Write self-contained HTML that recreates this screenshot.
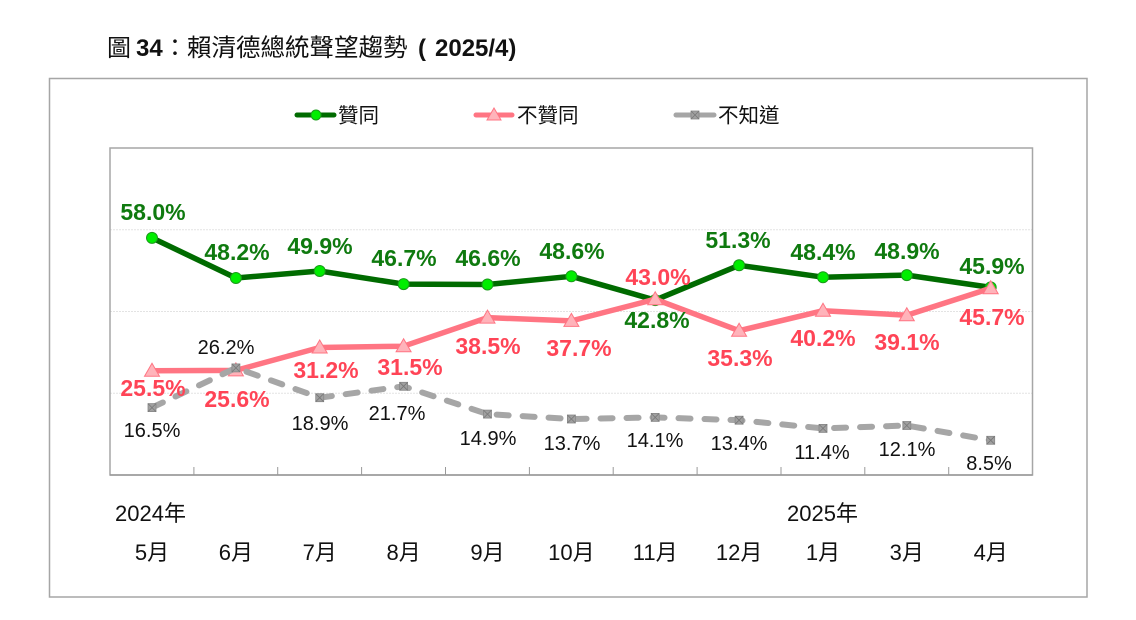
<!DOCTYPE html>
<html>
<head>
<meta charset="utf-8">
<style>
html,body{margin:0;padding:0;background:#fff;}
svg{display:block;}
text{font-family:"Liberation Sans","Noto Sans CJK TC",sans-serif;}
</style>
</head>
<body>
<svg width="1136" height="620" viewBox="0 0 1136 620" xmlns="http://www.w3.org/2000/svg">
  <rect x="0" y="0" width="1136" height="620" fill="#fff"/>
  <!-- Title -->
  <text x="107" y="56" font-size="24" fill="#111">圖</text>
  <text x="136" y="56" font-size="24" font-weight="bold" fill="#111">34</text>
  <text x="163" y="56" font-size="24" fill="#111">：</text>
  <text x="187" y="56" font-size="24.5" fill="#111">賴清德總統聲望趨勢</text>
  <text x="418" y="56" font-size="24" font-weight="bold" fill="#111">(</text>
  <text x="435" y="56" font-size="24" font-weight="bold" fill="#111">2025/4)</text>

  <!-- Outer box -->
  <rect x="49.5" y="78.5" width="1037.5" height="518.5" fill="none" stroke="#a6a6a6" stroke-width="1.5"/>

  <!-- Legend -->
  <line x1="297" y1="115" x2="334" y2="115" stroke="#006b00" stroke-width="5" stroke-linecap="round"/>
  <circle cx="316" cy="115" r="5" fill="#00ee00" stroke="#1a9a1a" stroke-width="1"/>
  <text x="338" y="122.5" font-size="20.5" fill="#111">贊同</text>

  <line x1="476" y1="115" x2="512" y2="115" stroke="#ff7583" stroke-width="5" stroke-linecap="round"/>
  <polygon points="494,108 501,120 487,120" fill="#ffb3ba" stroke="#ff7583" stroke-width="1"/>
  <text x="517" y="122.5" font-size="20.5" fill="#111">不贊同</text>

  <line x1="676" y1="115" x2="714" y2="115" stroke="#a6a6a6" stroke-width="5" stroke-linecap="round"/>
  <rect x="691" y="111" width="8" height="8" fill="#a0a0a0" stroke="#888" stroke-width="0.8"/>
  <path d="M691,111 L699,119 M699,111 L691,119" stroke="#777" stroke-width="0.8"/>
  <text x="718" y="122.5" font-size="20.5" fill="#111">不知道</text>

  <!-- Plot area -->
  <g stroke="#e3e3e3" stroke-width="1" stroke-dasharray="2 1">
    <line x1="110" y1="229.75" x2="1032" y2="229.75"/>
    <line x1="110" y1="311.5" x2="1032" y2="311.5"/>
    <line x1="110" y1="393.25" x2="1032" y2="393.25"/>
  </g>
  <rect x="110" y="148" width="922.5" height="327" fill="none" stroke="#a6a6a6" stroke-width="1.5"/>
  <line x1="110" y1="475" x2="1032.5" y2="475" stroke="#999" stroke-width="1.5"/>
  <g stroke="#999" stroke-width="1">
    <line x1="193.9" y1="467" x2="193.9" y2="475"/>
    <line x1="277.7" y1="467" x2="277.7" y2="475"/>
    <line x1="361.6" y1="467" x2="361.6" y2="475"/>
    <line x1="445.5" y1="467" x2="445.5" y2="475"/>
    <line x1="529.4" y1="467" x2="529.4" y2="475"/>
    <line x1="613.2" y1="467" x2="613.2" y2="475"/>
    <line x1="697.1" y1="467" x2="697.1" y2="475"/>
    <line x1="781" y1="467" x2="781" y2="475"/>
    <line x1="864.8" y1="467" x2="864.8" y2="475"/>
    <line x1="948.7" y1="467" x2="948.7" y2="475"/>
  </g>

  <!-- Green series -->
  <polyline fill="none" stroke="#006b00" stroke-width="5.5" stroke-linejoin="round"
    points="152,237.9 235.9,278.0 319.7,271.0 403.6,284.1 487.5,284.5 571.4,276.3 655.2,300.1 739.1,265.3 823,277.2 906.8,275.1 990.7,287.4"/>
  <g fill="#00ee00" stroke="#1a9a1a" stroke-width="1">
    <circle cx="152" cy="237.9" r="5.5"/>
    <circle cx="235.9" cy="278.0" r="5.5"/>
    <circle cx="319.7" cy="271.0" r="5.5"/>
    <circle cx="403.6" cy="284.1" r="5.5"/>
    <circle cx="487.5" cy="284.5" r="5.5"/>
    <circle cx="571.4" cy="276.3" r="5.5"/>
    <circle cx="655.2" cy="300.1" r="5.5"/>
    <circle cx="739.1" cy="265.3" r="5.5"/>
    <circle cx="823" cy="277.2" r="5.5"/>
    <circle cx="906.8" cy="275.1" r="5.5"/>
    <circle cx="990.7" cy="287.4" r="5.5"/>
  </g>

  <!-- Red series -->
  <polyline fill="none" stroke="#ff7583" stroke-width="5.5" stroke-linejoin="round"
    points="152,370.8 235.9,370.4 319.7,347.5 403.6,346.2 487.5,317.6 571.4,320.9 655.2,299.2 739.1,330.7 823,310.7 906.8,315.2 990.7,288.2"/>
  <g fill="#ffb3ba" stroke="#ff7583" stroke-width="1">
    <polygon points="152,363.3 159.5,376.3 144.5,376.3"/>
    <polygon points="235.9,362.9 243.4,375.9 228.4,375.9"/>
    <polygon points="319.7,340 327.2,353 312.2,353"/>
    <polygon points="403.6,338.7 411.1,351.7 396.1,351.7"/>
    <polygon points="487.5,310.1 495,323.1 480,323.1"/>
    <polygon points="571.4,313.4 578.9,326.4 563.9,326.4"/>
    <polygon points="655.2,291.7 662.7,304.7 647.7,304.7"/>
    <polygon points="739.1,323.2 746.6,336.2 731.6,336.2"/>
    <polygon points="823,303.2 830.5,316.2 815.5,316.2"/>
    <polygon points="906.8,307.7 914.3,320.7 899.3,320.7"/>
    <polygon points="990.7,280.7 998.2,293.7 983.2,293.7"/>
  </g>

  <!-- Gray series -->
  <polyline fill="none" stroke="#a6a6a6" stroke-width="6" stroke-linecap="round" stroke-linejoin="round" stroke-dasharray="12 14"
    points="152,407.6 235.9,367.9 319.7,397.7 403.6,386.3 487.5,414.1 571.4,419.0 655.2,417.4 739.1,420.2 823,428.4 906.8,425.5 990.7,440.3"/>
  <g fill="#a0a0a0" stroke="#888" stroke-width="0.8">
    <rect x="148" y="403.6" width="8" height="8"/>
    <rect x="231.9" y="363.9" width="8" height="8"/>
    <rect x="315.7" y="393.7" width="8" height="8"/>
    <rect x="399.6" y="382.3" width="8" height="8"/>
    <rect x="483.5" y="410.1" width="8" height="8"/>
    <rect x="567.4" y="415" width="8" height="8"/>
    <rect x="651.2" y="413.4" width="8" height="8"/>
    <rect x="735.1" y="416.2" width="8" height="8"/>
    <rect x="819" y="424.4" width="8" height="8"/>
    <rect x="902.8" y="421.5" width="8" height="8"/>
    <rect x="986.7" y="436.3" width="8" height="8"/>
  </g>
  <g stroke="#777" stroke-width="0.8">
    <path d="M148,403.6 l8,8 M156,403.6 l-8,8"/>
    <path d="M231.9,363.9 l8,8 M239.9,363.9 l-8,8"/>
    <path d="M315.7,393.7 l8,8 M323.7,393.7 l-8,8"/>
    <path d="M399.6,382.3 l8,8 M407.6,382.3 l-8,8"/>
    <path d="M483.5,410.1 l8,8 M491.5,410.1 l-8,8"/>
    <path d="M567.4,415 l8,8 M575.4,415 l-8,8"/>
    <path d="M651.2,413.4 l8,8 M659.2,413.4 l-8,8"/>
    <path d="M735.1,416.2 l8,8 M743.1,416.2 l-8,8"/>
    <path d="M819,424.4 l8,8 M827,424.4 l-8,8"/>
    <path d="M902.8,421.5 l8,8 M910.8,421.5 l-8,8"/>
    <path d="M986.7,436.3 l8,8 M994.7,436.3 l-8,8"/>
  </g>

  <!-- Green labels -->
  <g font-size="23" font-weight="bold" fill="#0f7a0f" text-anchor="middle">
    <text x="153" y="220">58.0%</text>
    <text x="237" y="260">48.2%</text>
    <text x="320" y="254">49.9%</text>
    <text x="404" y="266">46.7%</text>
    <text x="488" y="266">46.6%</text>
    <text x="572" y="259">48.6%</text>
    <text x="657" y="328">42.8%</text>
    <text x="738" y="248">51.3%</text>
    <text x="823" y="260">48.4%</text>
    <text x="907" y="259">48.9%</text>
    <text x="992" y="274">45.9%</text>
  </g>

  <!-- Red labels -->
  <g font-size="23" font-weight="bold" fill="#ff4456" text-anchor="middle">
    <text x="153" y="396">25.5%</text>
    <text x="237" y="407">25.6%</text>
    <text x="326" y="378">31.2%</text>
    <text x="410" y="375">31.5%</text>
    <text x="488" y="354">38.5%</text>
    <text x="579" y="356">37.7%</text>
    <text x="658" y="285">43.0%</text>
    <text x="740" y="366">35.3%</text>
    <text x="823" y="346">40.2%</text>
    <text x="907" y="350">39.1%</text>
    <text x="992" y="325">45.7%</text>
  </g>

  <!-- Gray (black text) labels -->
  <g font-size="20" fill="#111" text-anchor="middle">
    <text x="152" y="437">16.5%</text>
    <text x="226" y="354">26.2%</text>
    <text x="320" y="430">18.9%</text>
    <text x="397" y="420">21.7%</text>
    <text x="488" y="445">14.9%</text>
    <text x="572" y="450">13.7%</text>
    <text x="655" y="447">14.1%</text>
    <text x="739" y="450">13.4%</text>
    <text x="822" y="459">11.4%</text>
    <text x="907" y="456">12.1%</text>
    <text x="989" y="470">8.5%</text>
  </g>

  <!-- X axis labels -->
  <g font-size="22" fill="#111">
    <text x="115" y="521">2024年</text>
    <text x="787" y="521">2025年</text>
  </g>
  <g font-size="22" fill="#111" text-anchor="middle">
    <text x="152" y="560">5月</text>
    <text x="235.9" y="560">6月</text>
    <text x="319.7" y="560">7月</text>
    <text x="403.6" y="560">8月</text>
    <text x="487.5" y="560">9月</text>
    <text x="571.4" y="560">10月</text>
    <text x="655.2" y="560">11月</text>
    <text x="739.1" y="560">12月</text>
    <text x="823" y="560">1月</text>
    <text x="906.8" y="560">3月</text>
    <text x="990.7" y="560">4月</text>
  </g>
</svg>
</body>
</html>
